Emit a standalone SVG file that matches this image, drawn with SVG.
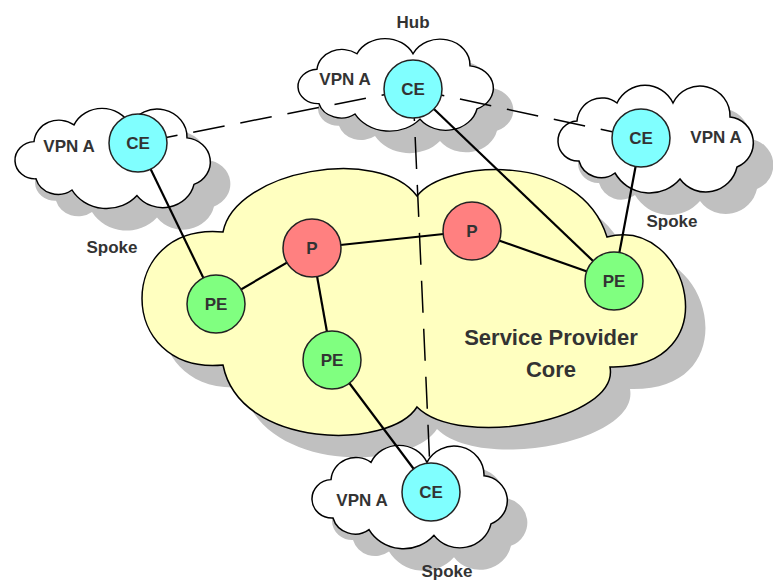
<svg xmlns="http://www.w3.org/2000/svg" xmlns:xlink="http://www.w3.org/1999/xlink" width="773" height="583" viewBox="0 0 773 583">
<defs>
<path id="cloud" d="M22,34 A25,25 0 0 1 62,16 A31,31 0 0 1 118,16 A30,30 0 0 1 175,30 A26,26 0 0 1 182,80 A32,32 0 0 1 125,92 A40,40 0 0 1 60,86 A23,23 0 0 1 24,74 A20,20 0 0 1 22,34 Z"/>
<path id="core" d="M223,232 C235,170 380,145 417,196 C445,160 580,150 607,237 C690,215 730,370 610,367 C620,420 460,450 417,407 C390,450 240,450 223,365 C115,375 115,222 223,232 Z"/>
</defs>
<style>
.shadow{fill:#c0c0c0;stroke:none}
.cloud{fill:#ffffff;stroke:#000;stroke-width:1.5}
.corefill{fill:#ffffc0;stroke:#000;stroke-width:1.5}
.node circle{stroke:#222;stroke-width:1.5}
.ce circle{fill:#80ffff}
.pe circle{fill:#80ff80}
.p circle{fill:#ff8080}
text{font-family:"Liberation Sans",Arial,sans-serif;font-weight:bold;font-size:17px;fill:#333;text-anchor:middle}
.big{font-size:22px}
.link{stroke:#000;stroke-width:2.2;fill:none}
.dash{stroke:#000;stroke-width:1.5;stroke-dasharray:32 16;fill:none}
</style>
<g id="shadows">
<use xlink:href="#core" class="shadow" transform="translate(20,22)"/>
<use xlink:href="#cloud" class="shadow" transform="translate(32,132) scale(1,0.93)"/>
<use xlink:href="#cloud" class="shadow" transform="translate(315,62) scale(1,0.86)"/>
<use xlink:href="#cloud" class="shadow" transform="translate(575,109)"/>
<use xlink:href="#cloud" class="shadow" transform="translate(329,469) scale(1,0.96)"/>
</g>
<g id="core-cloud">
<use xlink:href="#core" class="corefill"/>
<text class="big" x="551" y="345">Service Provider</text>
<text class="big" x="551" y="377">Core</text>
</g>
<g id="cloud-left">
<use xlink:href="#cloud" class="cloud" transform="translate(12,110) scale(1,0.93)"/>
<text x="69" y="152">VPN A</text>
<text x="112" y="253">Spoke</text>
</g>
<g id="cloud-hub">
<use xlink:href="#cloud" class="cloud" transform="translate(295,40) scale(1,0.86)"/>
<text x="413" y="28">Hub</text>
<text x="345" y="85">VPN A</text>
</g>
<g id="cloud-right">
<use xlink:href="#cloud" class="cloud" transform="translate(555,87)"/>
<text x="716" y="143">VPN A</text>
<text x="672" y="227">Spoke</text>
</g>
<g id="cloud-bottom">
<use xlink:href="#cloud" class="cloud" transform="translate(309,447) scale(1,0.96)"/>
<text x="362" y="506">VPN A</text>
<text x="447" y="577">Spoke</text>
</g>
<g id="connectors">
<line class="dash" x1="413" y1="89" x2="138" y2="143"/>
<line class="dash" x1="413" y1="89" x2="641" y2="138"/>
<line class="dash" x1="413" y1="89" x2="431" y2="492"/>
<line class="link" x1="138" y1="143" x2="216" y2="304"/>
<line class="link" x1="216" y1="304" x2="312" y2="248"/>
<line class="link" x1="312" y1="248" x2="472" y2="231"/>
<line class="link" x1="312" y1="248" x2="332" y2="360"/>
<line class="link" x1="472" y1="231" x2="614" y2="281"/>
<line class="link" x1="413" y1="89" x2="614" y2="281"/>
<line class="link" x1="641" y1="138" x2="614" y2="281"/>
<line class="link" x1="332" y1="360" x2="431" y2="492"/>
</g>
<g id="ce-hub" class="node ce"><circle cx="413" cy="89" r="29"/><text x="413" y="95">CE</text></g>
<g id="ce-left" class="node ce"><circle cx="138" cy="143" r="29"/><text x="138" y="149">CE</text></g>
<g id="ce-right" class="node ce"><circle cx="641" cy="138" r="29"/><text x="641" y="144">CE</text></g>
<g id="ce-bottom" class="node ce"><circle cx="431" cy="492" r="29"/><text x="431" y="498">CE</text></g>
<g id="pe-left" class="node pe"><circle cx="216" cy="304" r="29"/><text x="216" y="310">PE</text></g>
<g id="pe-bottom" class="node pe"><circle cx="332" cy="360" r="29"/><text x="332" y="366">PE</text></g>
<g id="pe-right" class="node pe"><circle cx="614" cy="281" r="29"/><text x="614" y="287">PE</text></g>
<g id="p-left" class="node p"><circle cx="312" cy="248" r="29"/><text x="312" y="254">P</text></g>
<g id="p-right" class="node p"><circle cx="472" cy="231" r="29"/><text x="472" y="237">P</text></g>
</svg>
